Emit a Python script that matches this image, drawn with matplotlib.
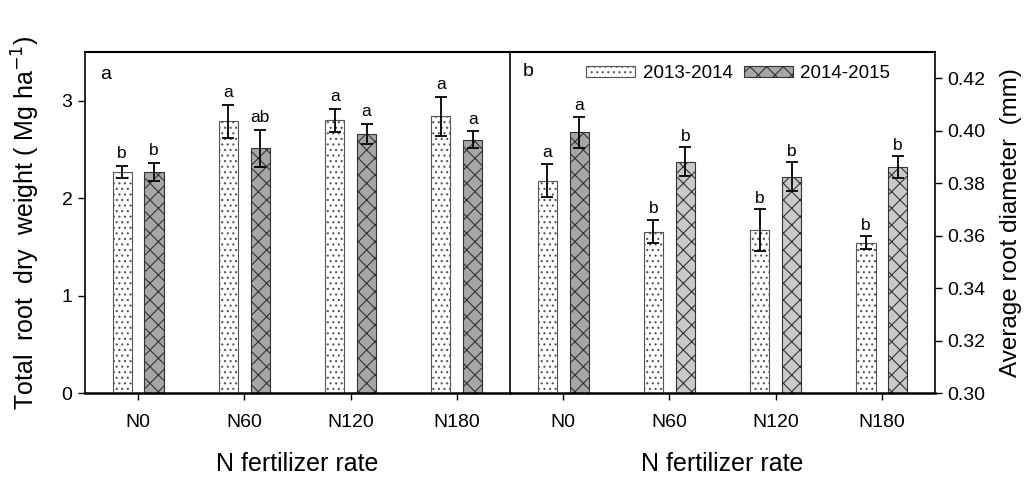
import numpy as np
import matplotlib.pyplot as plt

plt.rcParams['font.family'] = ['Liberation Sans', 'DejaVu Sans']
plt.rcParams['hatch.linewidth'] = 0.8

# --- datos ---
rates = ['N0', 'N60', 'N120', 'N180']
years = ['2013-2014', '2014-2015']

# panel a: peso seco total de raiz (Mg ha-1)
dw_1314 = [2.27, 2.79, 2.80, 2.84]
dw_1314_err = [0.06, 0.17, 0.12, 0.20]
dw_1415 = [2.27, 2.51, 2.66, 2.60]
dw_1415_err = [0.09, 0.19, 0.10, 0.085]
dw_let_1314 = ['b', 'a', 'a', 'a']
dw_let_1415 = ['b', 'ab', 'a', 'a']

# panel b: diametro medio de raiz (mm)
diam_1314 = [0.381, 0.3615, 0.362, 0.3573]
diam_1314_err = [0.0064, 0.0045, 0.008, 0.0025]
diam_1415 = [0.3994, 0.3882, 0.3825, 0.3861]
diam_1415_err = [0.006, 0.0055, 0.0054, 0.0041]
diam_let_1314 = ['a', 'b', 'b', 'b']
diam_let_1415 = ['a', 'b', 'b', 'b']

x = np.arange(len(rates))
w = 0.18
off = 0.15

fig = plt.figure(figsize=(10.35, 4.78), dpi=100)
axa = fig.add_axes([0.0821, 0.1778, 0.4106, 0.7134])
axb = fig.add_axes([0.4928, 0.1778, 0.4106, 0.7134])
axb.patch.set_visible(False)


def draw_pair(ax, v1, e1, v2, e2, l1, l2, c2, lift):
    b1 = ax.bar(x - off, v1, w, yerr=e1, color='white', edgecolor='#555555',
                hatch='...', linewidth=0.8, capsize=4,
                error_kw=dict(elinewidth=1.3, capthick=1.3, ecolor='black'),
                label=years[0])
    b2 = ax.bar(x + off, v2, w, yerr=e2, color=c2, edgecolor='#333333',
                hatch='xx', linewidth=0.8, capsize=4,
                error_kw=dict(elinewidth=1.3, capthick=1.3, ecolor='black'),
                label=years[1])
    for i in range(len(x)):
        ax.text(x[i] - off, v1[i] + e1[i] + lift, l1[i], ha='center',
                va='bottom', fontsize=12.5)
        ax.text(x[i] + off, v2[i] + e2[i] + lift, l2[i], ha='center',
                va='bottom', fontsize=12.5)
    return b1, b2


draw_pair(axa, dw_1314, dw_1314_err, dw_1415, dw_1415_err,
          dw_let_1314, dw_let_1415, ['#a6a6a6'] * 4, 0.05)
b1, b2 = draw_pair(axb, diam_1314, diam_1314_err, diam_1415, diam_1415_err,
                   diam_let_1314, diam_let_1415,
                   ['#a6a6a6', '#c9c9c9', '#c9c9c9', '#c9c9c9'], 0.0013)

axa.set_xlim(-0.5, 3.5)
axa.set_ylim(0, 3.5)
axa.set_yticks([0, 1, 2, 3])
axb.set_xlim(-0.5, 3.5)
axb.set_ylim(0.30, 0.43)
axb.set_yticks(np.arange(0.30, 0.421, 0.02))
axb.yaxis.tick_right()
axb.yaxis.set_label_position('right')
axb.set_yticklabels([f'{t:.2f}' for t in np.arange(0.30, 0.421, 0.02)])

for ax in (axa, axb):
    ax.set_xticks(x)
    ax.set_xticklabels(rates)
    ax.tick_params(direction='out', length=5, width=1, labelsize=14, pad=10)
    ax.tick_params(axis='y', pad=4)
    for s in ax.spines.values():
        s.set_linewidth(1.2)
        s.set_color('black')
    ax.spines['bottom'].set_linewidth(1.8)
    ax.spines['top'].set_linewidth(1.5)
    ax.set_xlabel('N fertilizer rate', fontsize=18, labelpad=15)

axb.spines['left'].set_visible(False)

axa.set_ylabel('Total  root  dry  weight ( Mg ha$^{-1}$)', fontsize=18,
               labelpad=14)
axb.set_ylabel('Average root diameter  (mm)', fontsize=17.5, labelpad=10)

axa.text(0.035, 0.92, 'a', transform=axa.transAxes, fontsize=14)
axb.text(0.03, 0.93, 'b', transform=axb.transAxes, fontsize=14)

axb.legend(handles=[b1, b2], labels=years, ncol=2, frameon=False,
           loc='upper left', bbox_to_anchor=(0.14, 1.01), fontsize=13.5,
           handlelength=2.6, handleheight=0.5, columnspacing=0.6,
           handletextpad=0.4)

fig.savefig('out.png', dpi=100)
